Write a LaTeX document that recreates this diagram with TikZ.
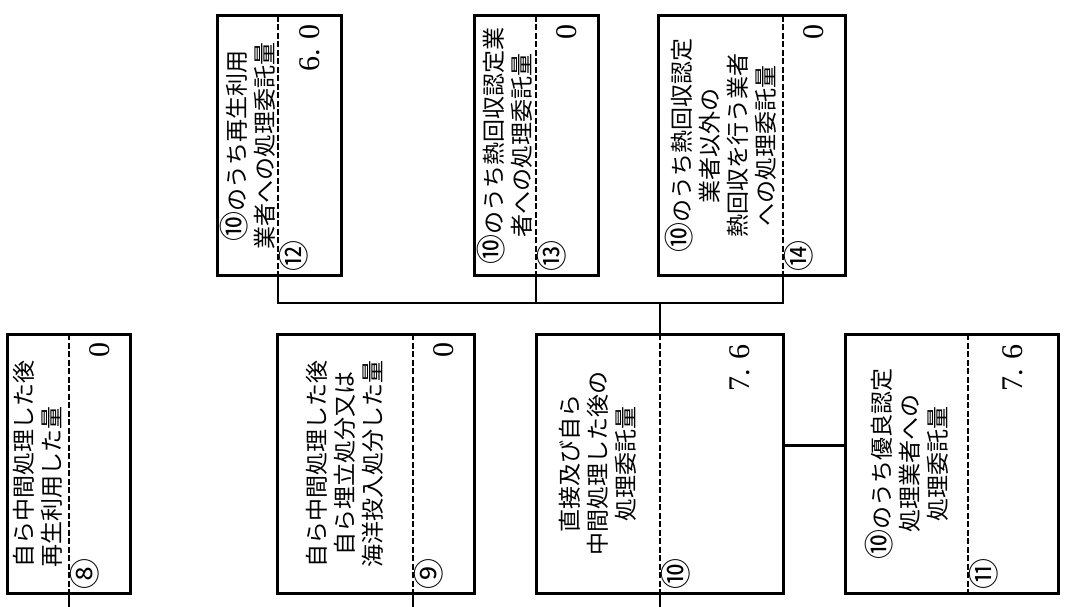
\documentclass[tikz,border=0pt]{standalone}
\usepackage{fontspec}
\setmainfont{Noto Sans CJK JP}
\newfontfamily\numfont{Liberation Serif}
\newcommand{\ten}{{\fontsize{30}{28}\selectfont ⑩}}
\usetikzlibrary{calc}

\begin{document}
\begin{tikzpicture}[
    x=1pt, y=-1pt,
    box/.style={draw, line width=3pt, minimum height=259pt, inner sep=0pt, outer sep=0pt, anchor=north west},
    part/.style={minimum height=259pt, inner sep=0pt, outer sep=0pt, anchor=north east},
    sep/.style={line width=2.4pt, dash pattern=on 6pt off 2.5pt},
    link/.style={line width=2.8pt},
    label/.style={rotate=90, align=center, inner sep=0pt, font=\fontsize{23}{28}\selectfont},
    amount/.style={rotate=90, anchor=east, inner sep=0pt, font=\numfont\fontsize{30}{30}\selectfont},
    circnum/.style={rotate=90, anchor=north west, inner sep=0pt, font=\fontsize{31}{31}\selectfont}
]
    \useasboundingbox (0,0) rectangle (1065,607);

    % --- lower row ---
    \node[box, minimum width=123pt] (b8) at (7,334) {};
    \node[part, minimum width=61pt] (v8) at (b8.north east) {};
    \draw[sep] (v8.north west) -- (v8.south west);
    \node[label, align=left] at ($(b8.west)!.5!(v8.west)$) {自ら中間処理した後\\再生利用した量};
    \node[amount] at ([yshift=-8pt]v8.north) {0};
    \node[circnum] at ([xshift=1pt,yshift=3pt]v8.south west) {⑧};

    \node[box, minimum width=197pt] (b9) at (277,334) {};
    \node[part, minimum width=61pt] (v9) at (b9.north east) {};
    \draw[sep] (v9.north west) -- (v9.south west);
    \node[label] at ($(b9.west)!.5!(v9.west)$) {自ら中間処理した後\\自ら埋立処分又は\\海洋投入処分した量};
    \node[amount] at ([yshift=-8pt]v9.north) {0};
    \node[circnum] at ([xshift=1pt,yshift=3pt]v9.south west) {⑨};

    \node[box, minimum width=247pt] (b10) at (536,334) {};
    \node[part, minimum width=123pt] (v10) at (b10.north east) {};
    \draw[sep] (v10.north west) -- (v10.south west);
    \node[label] at ($(b10.west)!.5!(v10.west)$) {直接及び自ら\\中間処理した後の\\処理委託量};
    \node[amount] at ([xshift=18pt,yshift=-10pt]v10.north) {7. 6};
    \node[circnum] at ([xshift=1pt,yshift=3pt]v10.south west) {⑩};

    \node[box, minimum width=213pt] (b11) at (845,334) {};
    \node[part, minimum width=90pt] (v11) at (b11.north east) {};
    \draw[sep] (v11.north west) -- (v11.south west);
    \node[label] at ($(b11.west)!.5!(v11.west)$) {\ten のうち優良認定\\処理業者への\\処理委託量};
    \node[amount] at ([yshift=-10pt]v11.north) {7. 6};
    \node[circnum] at ([xshift=1pt,yshift=3pt]v11.south west) {⑪};

    % --- upper row ---
    \node[box, minimum width=124pt] (b12) at (217,16) {};
    \node[part, minimum width=63pt] (v12) at (b12.north east) {};
    \draw[sep] (v12.north west) -- (v12.south west);
    \node[label] at ($(b12.west)!.5!(v12.west)$) {\ten のうち再生利用\\業者への処理委託量};
    \node[amount] at ([yshift=-8pt]v12.north) {6. 0};
    \node[circnum] at ([xshift=1pt,yshift=3pt]v12.south west) {⑫};

    \node[box, minimum width=124pt] (b13) at (474,16) {};
    \node[part, minimum width=62pt] (v13) at (b13.north east) {};
    \draw[sep] (v13.north west) -- (v13.south west);
    \node[label] at ($(b13.west)!.5!(v13.west)$) {\ten のうち熱回収認定業\\者への処理委託量};
    \node[amount] at ([yshift=-8pt]v13.north) {0};
    \node[circnum] at ([xshift=1pt,yshift=3pt]v13.south west) {⑬};

    \node[box, minimum width=187pt] (b14) at (658,16) {};
    \node[part, minimum width=62pt] (v14) at (b14.north east) {};
    \draw[sep] (v14.north west) -- (v14.south west);
    \node[label] at ($(b14.west)!.5!(v14.west)$) {\ten のうち熱回収認定\\業者以外の\\熱回収を行う業者\\への処理委託量};
    \node[amount] at ([yshift=-8pt]v14.north) {0};
    \node[circnum] at ([xshift=1pt,yshift=3pt]v14.south west) {⑭};

    % --- connectors ---
    \coordinate (bus) at (0,303);
    \coordinate (foot) at (0,607);
    \draw[link] (v12.south west) |- (bus -| v14.south west) -- (v14.south west);
    \draw[link] (v13.south west) -- (v13.south west |- bus);
    \draw[link] (v10.north west |- bus) -- (v10.north west);
    \draw[link] ([yshift=18pt]b10.east) -- ([yshift=18pt]b11.west);
    \draw[link] (v8.south west) -- (v8.south west |- foot);
    \draw[link] (v9.south west) -- (v9.south west |- foot);
    \draw[link] (v10.south west) -- (v10.south west |- foot);
\end{tikzpicture}
\end{document}
